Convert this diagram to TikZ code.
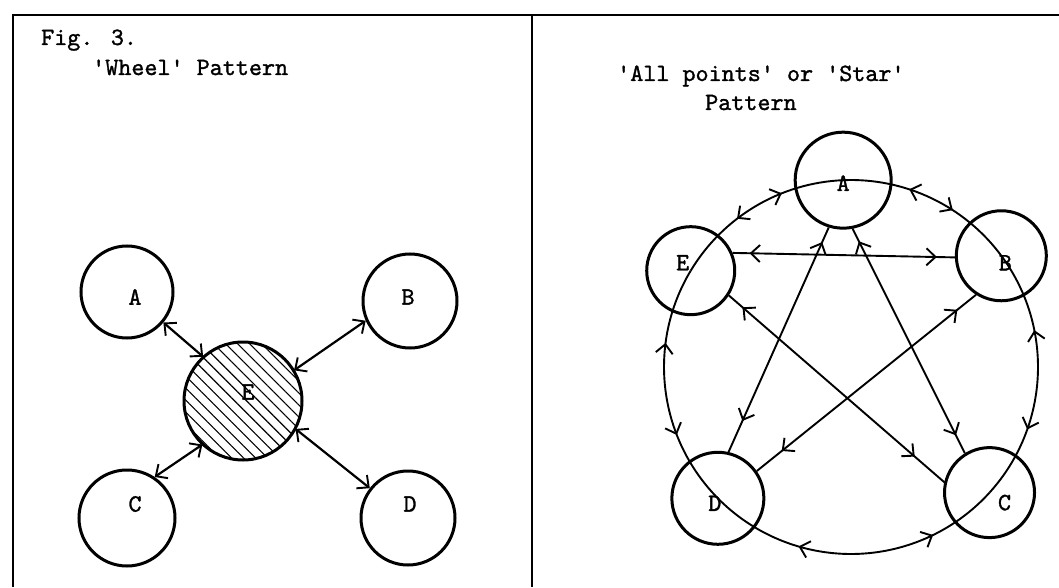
\documentclass[tikz,border=0pt]{standalone}
\usepackage{fontspec}
\newfontfamily\typew[FakeBold=1.2]{lmmono10-regular.otf}
\usetikzlibrary{arrows.meta,decorations.markings,patterns.meta,calc}
\begin{document}
\begin{tikzpicture}[x=1pt,y=1pt,
  every node/.style={font=\fontsize{24.88}{30}\selectfont\typew},
  barb/.tip={Straight Barb[length=9pt,width=17pt,line width=1.9pt]},
  frame/.style={line width=2pt},
  circ/.style={circle,draw,line width=3pt,inner sep=0pt,minimum size=#1},
  lab/.style={inner sep=0pt},
  both/.style={line width=2.2pt,barb-barb},
  mid/.style 2 args={line width=1.9pt,
    decoration={markings,
      mark=at position #1 with {\arrowreversed{barb}},
      mark=at position -#2 with {\arrow{barb}}},
    postaction={decorate}},
  title/.style={anchor=base west,inner sep=0pt}]
\useasboundingbox (0,0) rectangle (1059,587);
% frame
\draw[frame] (13,0) -- (13,572) -- (1059,572);
\draw[frame] (532,572) -- (532,0);
% titles
\node[title] (t1) at (41,542) {Fig. 3.};
\node[title] (t2) at (92,512) {'Wheel' Pattern};
\node[title] (t3) at (617,506) {'All points' or 'Star'};
\node[title] (t4) at (705,477) {Pattern};
% left: wheel
\node[circ=92pt,label={[lab,xshift=8pt,yshift=-5pt]center:A}] (lA) at (127,295) {};
\node[circ=94pt,label={[lab,xshift=-2pt,yshift=4pt]center:B}] (lB) at (410,286) {};
\node[circ=96pt,label={[lab,xshift=8pt,yshift=14pt]center:C}] (lC) at (127,69) {};
\node[circ=94pt,label={[lab,xshift=2pt,yshift=14pt]center:D}] (lD) at (408,69) {};
\node[circ=118pt,pattern={Lines[angle=-45,distance=8.5pt,line width=1.1pt]},
  label={[lab,xshift=5pt,yshift=9pt]center:E}] (lE) at (243,186) {};
\draw[both] (lA.320) -- (lE.132);
\draw[both] (lB.204) -- (lE.31);
\draw[both] (lC.56) -- (lE.227);
\draw[both] (lD.142) -- (lE.332);
% right: star
\coordinate (O) at (851,220);
\node[circ=96pt,label={[lab,yshift=-3pt]center:A}] (rA) at ($(O)+(92.4:187pt)$) {};
\node[circ=90pt,label={[lab,xshift=4pt,yshift=-7pt]center:B}] (rB) at ($(O)+(36.5:187pt)$) {};
\node[circ=88pt,label={[lab,xshift=-8pt,yshift=8pt]center:E}] (rE) at ($(O)+(149:187pt)$) {};
\node[circ=92pt,label={[lab,xshift=-3pt,yshift=-5pt]center:D}] (rD) at ($(O)+(224.6:187pt)$) {};
\node[circ=90pt,label={[lab,xshift=15pt,yshift=-10pt]center:C}] (rC) at ($(O)+(317.8:187pt)$) {};
% ring
\draw[mid={67pt}{67pt}] (rA.center) arc[start angle=92.4,end angle=36.5,radius=187pt];
\draw[mid={82pt}{74pt}] (rB.center) arc[start angle=36.5,end angle=-42.2,radius=187pt];
\draw[mid={71pt}{95pt}] (rC.center) arc[start angle=-42.2,end angle=-135.4,radius=187pt];
\draw[mid={76pt}{77pt}] (rD.center) arc[start angle=224.6,end angle=149,radius=187pt];
\draw[mid={70pt}{63pt}] (rE.center) arc[start angle=149,end angle=92.4,radius=187pt];
% chords
\draw[mid={17pt}{18pt}] (rE.23) -- (rB.182);
\draw[mid={16pt}{34pt}] (rA.253) -- (rD.77);
\draw[mid={14pt}{20pt}] (rA.281) -- (rC.122);
\draw[mid={18pt}{39pt}] (rE.327) -- (rC.167);
\draw[mid={24pt}{32pt}] (rB.237) -- (rD.35);
\end{tikzpicture}
\end{document}
